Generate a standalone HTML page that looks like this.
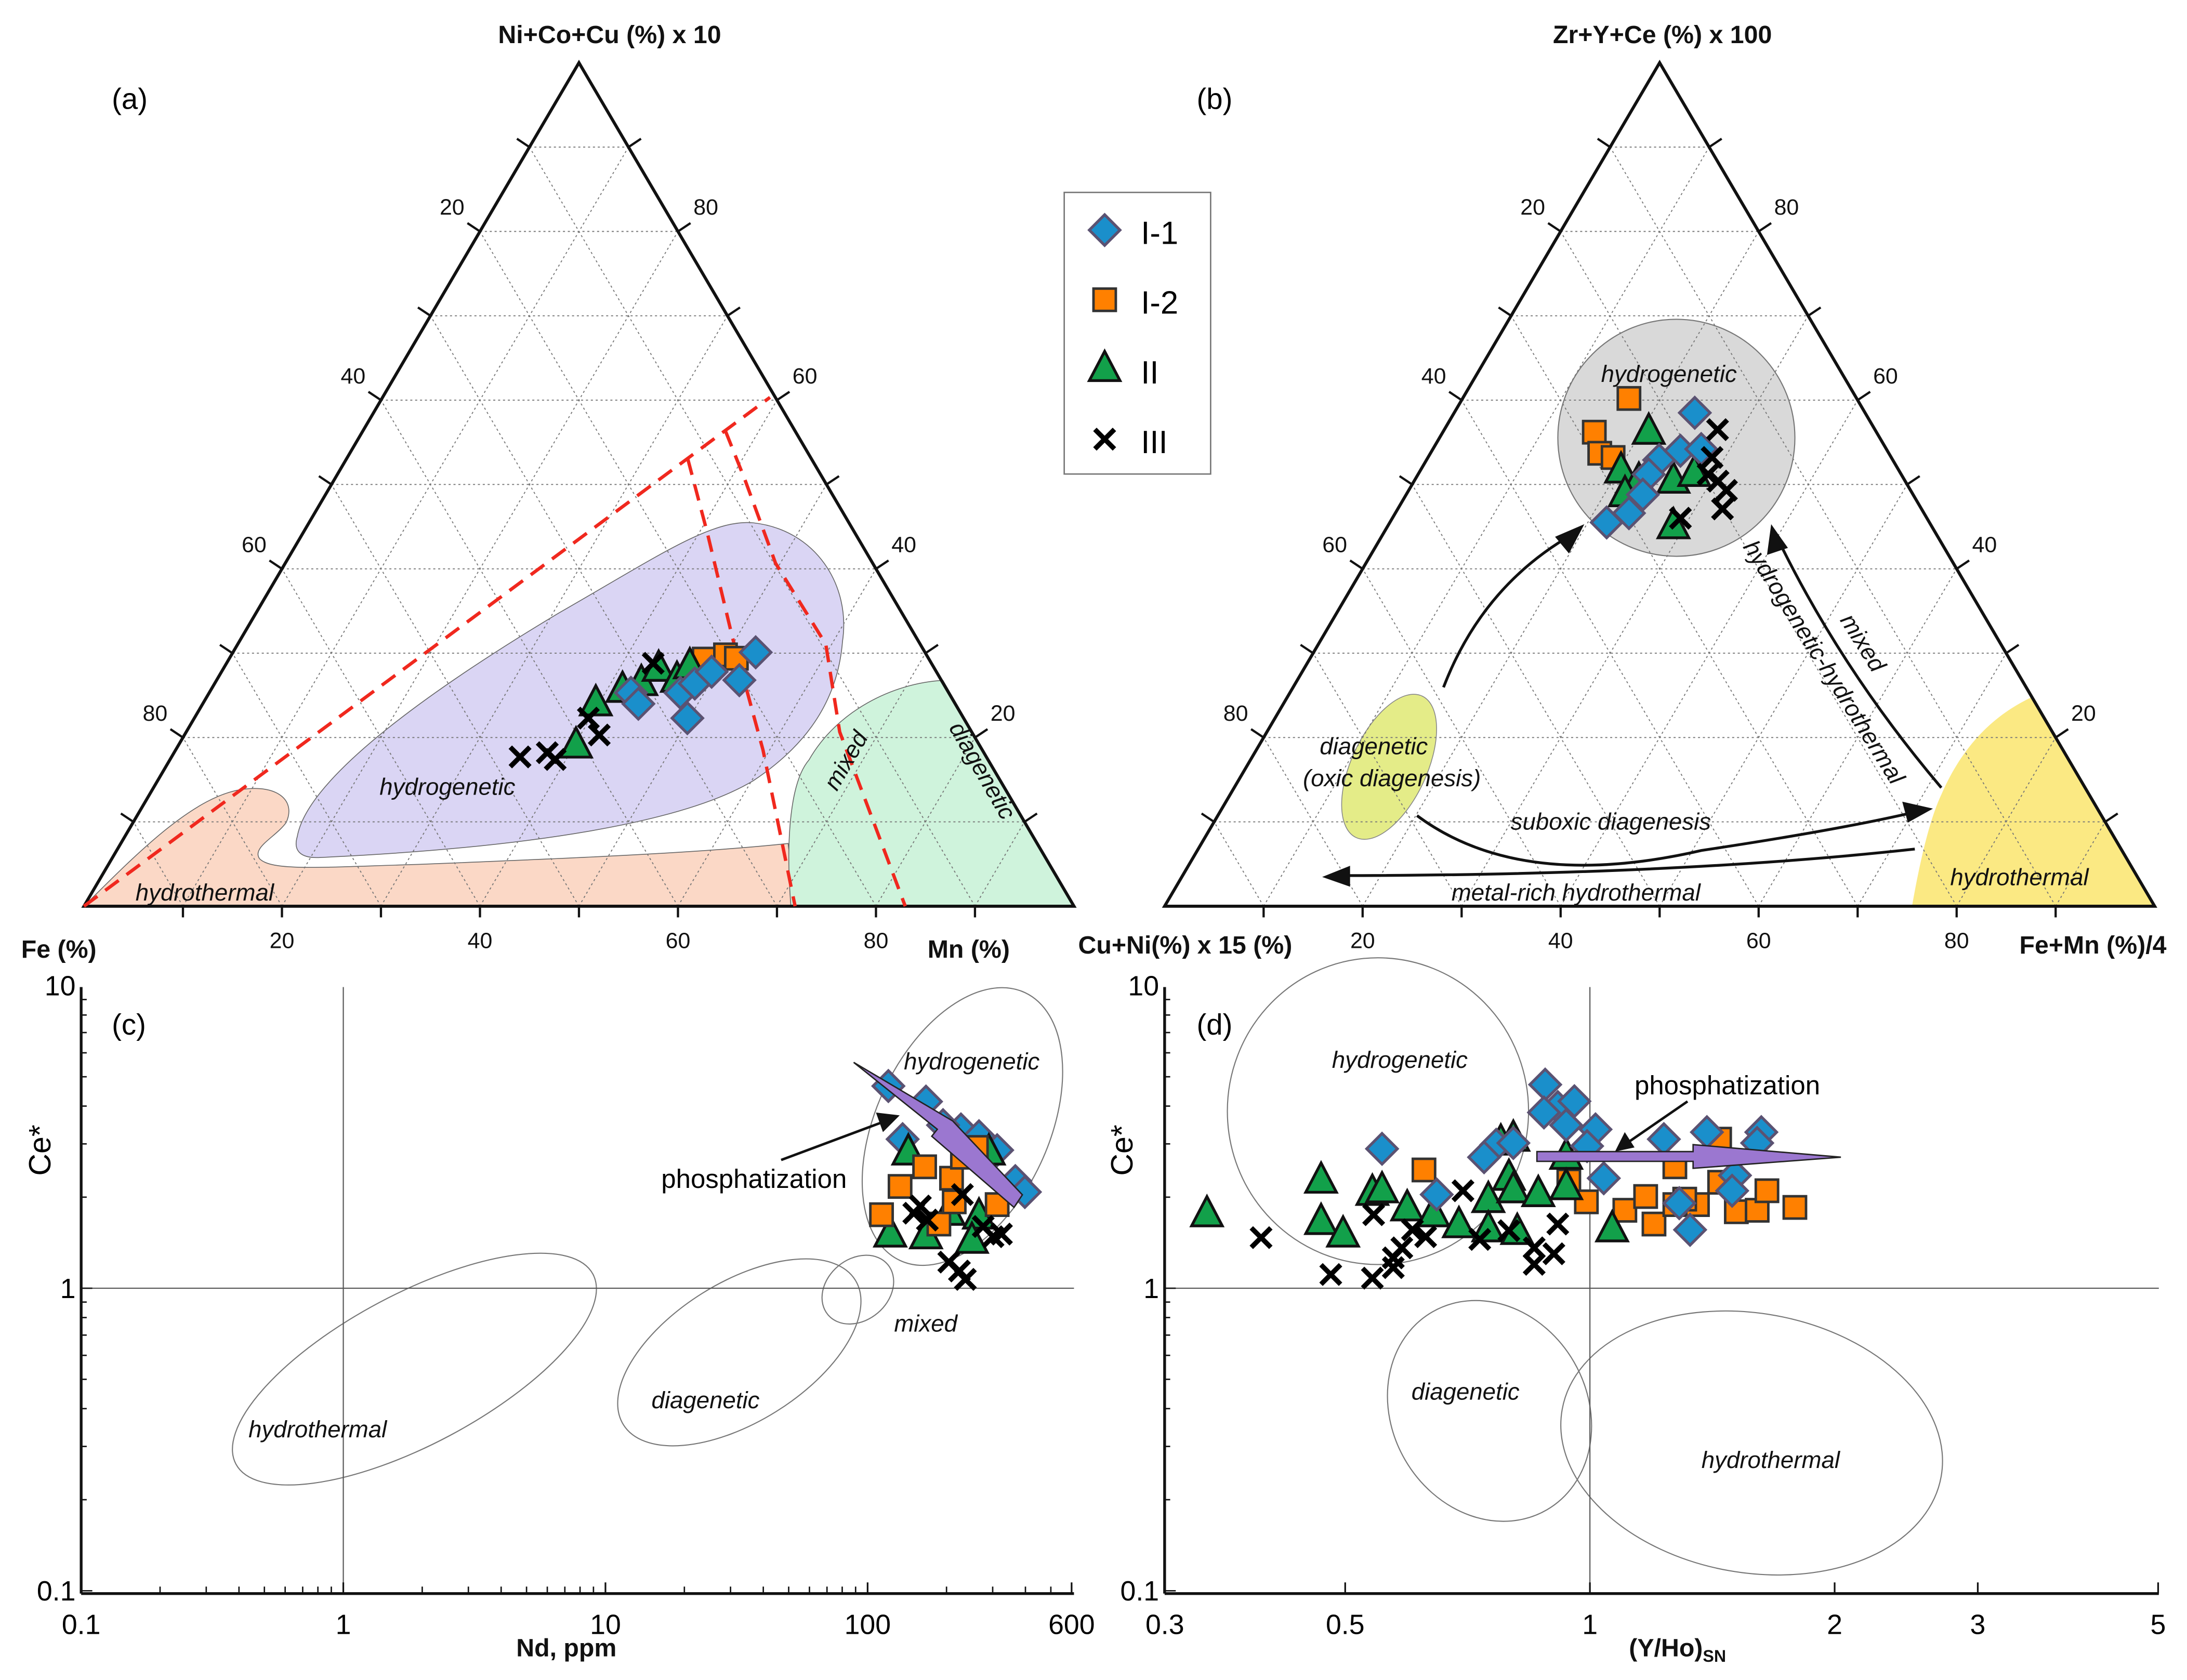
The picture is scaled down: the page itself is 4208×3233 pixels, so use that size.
<!DOCTYPE html>
<html><head><meta charset="utf-8"><style>
html,body{margin:0;padding:0;background:#fff;}
svg{display:block;font-family:"Liberation Sans",Arial,sans-serif;}
.t{font-size:16px;fill:#111;}
.b{font-weight:bold;font-size:18px;fill:#111;}
.i{font-style:italic;font-size:17px;fill:#111;}
.g{stroke:#777;stroke-width:0.7;stroke-dasharray:1.5 2;fill:none;}
</style></head><body>
<svg id="chart" width="4208" height="3233" viewBox="0 0 1568 1205" xmlns="http://www.w3.org/2000/svg">
<rect x="0" y="0" width="1568" height="1205" fill="#fff"/>
<g id="pa">
<path d="M60,650 C100,610 140,570 175,566 C200,563 212,575 205,590 C198,600 180,608 186,616 C195,625 230,622 300,620 C400,616 500,612 565,605 L570,650 Z" fill="#fbd8c6" stroke="#666" stroke-width="0.6"/>
<path d="M213,600 C220,560 300,500 400,440 C470,400 510,372 540,375 C585,380 610,420 604,460 C600,510 570,540 540,560 C490,590 380,608 230,615 C215,616 210,610 213,600Z" fill="#dad5f4" stroke="#666" stroke-width="0.6"/>
<path d="M567,650 C563,600 567,560 580,545 C600,510 640,490 676,488 L770,650 Z" fill="#cff3dc" stroke="#666" stroke-width="0.6"/>
</g>
<g id="pb">
<circle cx="1202" cy="314" r="85" fill="#d9d9d9" stroke="#777" stroke-width="0.8"/>
<ellipse cx="996" cy="550" rx="27" ry="56" transform="rotate(25 996 550)" fill="#e4ec88" stroke="#888" stroke-width="0.6"/>
<path d="M1371,650 C1378,610 1385,585 1392,570 C1405,540 1425,515 1457,500 L1545,650 Z" fill="#fbe983"/>
</g>
<g id="grids"></g>
<g id="frames">
<polygon points="60,650 770,650 415,45" fill="none" stroke="#111" stroke-width="2.2"/>
<polygon points="835,650 1545,650 1190,45" fill="none" stroke="#111" stroke-width="2.2"/>
<g fill="none" stroke="#f0281e" stroke-width="2.4" stroke-dasharray="12 7">
<path d="M60,650 L552,285"/>
<path d="M493,329 L507,382 L525,457 L547,538 L570,650"/>
<path d="M520,309 L534,344 L556,404 L592,462 L602,525 L649,650"/>
</g>
</g>
<g id="plots">
<ellipse cx="297" cy="982" rx="145" ry="54" transform="rotate(-28 297 982)" fill="none" stroke="#777" stroke-width="0.8"/>
<ellipse cx="530" cy="970" rx="98" ry="50" transform="rotate(-32 530 970)" fill="none" stroke="#777" stroke-width="0.8"/>
<ellipse cx="615" cy="925" rx="28" ry="22" transform="rotate(-40 615 925)" fill="none" stroke="#777" stroke-width="0.8"/>
<ellipse cx="690" cy="808" rx="62" ry="106" transform="rotate(25 690 808)" fill="none" stroke="#777" stroke-width="0.8"/>
<ellipse cx="988" cy="797" rx="108" ry="110" fill="none" stroke="#777" stroke-width="0.8"/>
<ellipse cx="1068" cy="1012" rx="70" ry="82" transform="rotate(-30 1068 1012)" fill="none" stroke="#777" stroke-width="0.8"/>
<ellipse cx="1256" cy="1035" rx="138" ry="93" transform="rotate(10 1256 1035)" fill="none" stroke="#777" stroke-width="0.8"/>
</g>
<g id="axes"></g>
<g id="marks"></g>
<g id="labels">
<text x="437" y="31" text-anchor="middle" class="b">Ni+Co+Cu (%) x 10</text>
<text x="1192" y="31" text-anchor="middle" class="b">Zr+Y+Ce (%) x 100</text>
<text x="80" y="78" style="font-size:21px">(a)</text>
<text x="858" y="78" style="font-size:21px">(b)</text>
<text x="80" y="742" style="font-size:21px">(c)</text>
<text x="858" y="742" style="font-size:21px">(d)</text>
<text x="15" y="687" class="b">Fe (%)</text>
<text x="665" y="687" class="b">Mn (%)</text>
<text x="773" y="684" class="b">Cu+Ni(%) x 15 (%)</text>
<text x="1448" y="684" class="b">Fe+Mn (%)/4</text>
<text x="272" y="570" class="i">hydrogenetic</text>
<text x="97" y="646" class="i">hydrothermal</text>
<text x="0" y="0" class="i" transform="translate(600,568) rotate(-60)">mixed</text>
<text x="0" y="0" class="i" transform="translate(680,522) rotate(60)">diagenetic</text>
<text x="1148" y="274" class="i">hydrogenetic</text>
<text x="985" y="541" text-anchor="middle" class="i">diagenetic</text>
<text x="998" y="564" text-anchor="middle" class="i">(oxic diagenesis)</text>
<text x="1155" y="595" text-anchor="middle" class="i">suboxic diagenesis</text>
<text x="1130" y="646" text-anchor="middle" class="i">metal-rich hydrothermal</text>
<text x="1448" y="635" text-anchor="middle" class="i">hydrothermal</text>
<text x="0" y="0" class="i" text-anchor="middle" transform="translate(1331,464) rotate(58)">mixed</text>
<text x="0" y="0" class="i" text-anchor="middle" transform="translate(1303,478) rotate(58)">hydrogenetic-hydrothermal</text>
<g fill="none" stroke="#111" stroke-width="2">
<path d="M1035,493 Q1063,420 1128,383"/>
<path d="M1392,565 Q1320,480 1274,385"/>
<path d="M1016,585 Q1090,640 1220,610 Q1320,595 1375,582"/>
<path d="M1373,609 Q1200,628 960,628"/>
</g>
<g fill="#111">
<polygon points="1136,376 1115,385 1125,397"/>
<polygon points="1270,376 1267,398 1282,393"/>
<polygon points="1386,580 1364,575 1368,590"/>
<polygon points="948,629 968,621 968,636"/>
</g>
<text x="648" y="767" class="i">hydrogenetic</text>
<text x="641" y="955" class="i">mixed</text>
<text x="467" y="1010" class="i">diagenetic</text>
<text x="178" y="1031" class="i">hydrothermal</text>
<text x="955" y="766" class="i">hydrogenetic</text>
<text x="1012" y="1004" class="i">diagenetic</text>
<text x="1220" y="1053" class="i">hydrothermal</text>
<polygon points="612,762 683,804 733,857 727,866 668,815 672,810" fill="#9b77d0" stroke="#222" stroke-width="1"/>
<polygon points="1102,826 1214,826 1214,821 1320,830 1214,838 1214,833 1102,833" fill="#9b77d0" stroke="#222" stroke-width="1"/>
<text x="474" y="852" style="font-size:19px">phosphatization</text>
<text x="1172" y="785" style="font-size:19px">phosphatization</text>
<path d="M560,832 L635,804" stroke="#111" stroke-width="1.8" fill="none"/>
<polygon points="645,800 628,798 633,812" fill="#111"/>
<path d="M1210,790 L1165,821" stroke="#111" stroke-width="1.8" fill="none"/>
<polygon points="1158,826 1165,812 1172,823" fill="#111"/>
<text x="370" y="1188" class="b">Nd, ppm</text>
<text x="1168" y="1188" class="b">(Y/Ho)<tspan font-size="12" dy="4">SN</tspan></text>
<text x="0" y="0" style="font-size:22px" text-anchor="middle" transform="translate(36,825) rotate(-90)">Ce*</text>
<text x="0" y="0" style="font-size:22px" text-anchor="middle" transform="translate(812,825) rotate(-90)">Ce*</text>
</g>
<g id="legend">
<rect x="763" y="138" width="105" height="202" fill="#fff" stroke="#777" stroke-width="1"/>
<text x="818" y="175" style="font-size:23px">I-1</text>
<text x="818" y="225" style="font-size:23px">I-2</text>
<text x="818" y="275" style="font-size:23px">II</text>
<text x="818" y="325" style="font-size:23px">III</text>
</g>
</svg>
<script>
const aDiaMn=[42.6,44,47.6,49.8,48.5,49.5,52.8,52.8];
const aDiaNcc=[25.3,24,25.3,22.3,26.4,27.8,26.8,30.1];
const aSqMn=[48,49.9,51.2];
const aSqNcc=[29.3,29.8,29.4];
const aTriMn=[40.2,39.7,41.6,43.1,44,46.5,47];
const aTriNcc=[19,24,25.6,26.4,28.1,26.8,28.4];
const aXMn=[35.2,37.7,38.9,39.8,41.9,43.1];
const aXNcc=[17.7,18.2,17.4,22.3,20.3,28.8];
const bDiaFM=[24.3,23.5,25.1,27.1,23.3,23.9,21.9,23.6];
const bDiaZYC=[58.5,52.9,54,54.2,51.2,48.8,45.5,46.6];
const bSqFM=[16.8,15.3,17.1,18.7,23.2];
const bSqZYC=[60.2,56.2,53.7,53.2,47.9];
const bTriFM=[20.8,20.3,22.7,26.2,27.9,28.9,22.1];
const bTriZYC=[56.2,51.6,50.4,50.4,51.2,45,48.8];
const bXFM=[27.6,28.7,29.3,30.7,32.1,32.8,29.1];
const bXZYC=[56.5,53.2,51.2,50.4,49.3,47.1,46];
const cDiaNd=[120,167,136,227,312,366,194,266,398];
const cDiaCe=[4.66,4.14,3.11,3.35,2.86,2.26,3.46,3.18,2.08];
const cSqNd=[165,133,113,209,260,230,187,214,312];
const cSqCe=[2.52,2.17,1.75,2.31,2.92,2.71,1.63,1.93,1.89];
const cTriNd=[143,122,167,266,290,250,204];
const cTriCe=[2.8,1.5,1.48,1.72,2.8,1.43,1.77];
const cXNd=[150,159,230,301,204,224,236,324,169,276];
const cXCe=[1.77,1.87,2.04,1.48,1.22,1.14,1.07,1.51,1.68,1.6];
const dDiaYH=[0.881,0.913,0.957,0.878,0.935,1.016,0.767,0.805,0.741,0.555,0.648,1.04,0.992,1.233,1.393,1.625,1.606,1.508,1.496,1.288,1.328];
const dDiaCe=[4.71,3.97,4.15,3.81,3.46,3.35,2.98,3.02,2.71,2.89,2.04,2.31,2.95,3.11,3.28,3.28,3.02,2.36,2.1,1.91,1.56];
const dSqYH=[0.625,0.942,0.99,1.104,1.171,1.199,1.272,1.272,1.356,1.444,1.444,1.514,1.606,1.651,1.787,1.308];
const dSqCe=[2.46,2.26,1.93,1.81,2.01,1.63,2.52,1.89,1.89,3.11,2.24,1.79,1.81,2.1,1.85,1.97];
const dTriYH=[0.338,0.467,0.467,0.497,0.54,0.555,0.596,0.642,0.69,0.75,0.777,0.805,0.795,0.805,0.864,0.75,0.814,0.935,0.935,1.065];
const dTriCe=[1.75,2.26,1.65,1.5,2.06,2.1,1.83,1.75,1.61,1.95,3.02,3.11,2.31,2.1,2.04,1.56,1.53,2.71,2.15,1.56];
const dXYH=[0.394,0.542,0.48,0.54,0.573,0.587,0.605,0.628,0.698,0.732,0.795,0.854,0.903,0.913,0.854,0.573];
const dXCe=[1.47,1.75,1.11,1.08,1.26,1.36,1.56,1.48,2.1,1.45,1.55,1.36,1.3,1.63,1.2,1.17];
const ternTickVals=[20,40,60,80];
const cXTicks=[0.1,1,10,100,600];
const dXTicks=[0.3,0.5,1,2,3,5];
const yTicks=[0.1,1,10];

const NS='http://www.w3.org/2000/svg';
function mk(tag,parent,attrs){const e=document.createElementNS(NS,tag);for(const k in attrs)e.setAttribute(k,attrs[k]);parent.appendChild(e);return e;}
const TA={L:[60,650],R:[770,650],T:[415,45]};
const TB={L:[835,650],R:[1545,650],T:[1190,45]};
function tern(T,m,t){return [T.L[0]+m*(T.R[0]-T.L[0])+t*(T.T[0]-T.L[0]), T.L[1]+m*(T.R[1]-T.L[1])+t*(T.T[1]-T.L[1])];}
function cx(v){return 246+188*Math.log10(v);}
function dx(v){return 1140+583*Math.log10(v);}
function yy(v){return 924-217*Math.log10(v);}

const grids=document.getElementById('grids');
const axes=document.getElementById('axes');
const marks=document.getElementById('marks');

function drawTernGrid(T,pref){
  for(let k=1;k<10;k++){
    const f=k/10;
    let p=tern(T,0,f),q=tern(T,1-f,f);
    let l=mk('line',grids,{x1:p[0],y1:p[1],x2:q[0],y2:q[1],class:'g'});
    
    
    p=tern(T,f,0);q=tern(T,f,1-f);
    l=mk('line',grids,{x1:p[0],y1:p[1],x2:q[0],y2:q[1],class:'g'});
    
    
    p=tern(T,1-f,0);q=tern(T,0,1-f);
    l=mk('line',grids,{x1:p[0],y1:p[1],x2:q[0],y2:q[1],class:'g'});
    
    
    p=tern(T,f,0);
    let tk=mk('line',axes,{x1:p[0],y1:p[1],x2:p[0],y2:p[1]+8,stroke:'#111','stroke-width':1.6});
    
    
    p=tern(T,0,f);
    tk=mk('line',axes,{x1:p[0],y1:p[1],x2:p[0]-9,y2:p[1]-6,stroke:'#111','stroke-width':1.6});
    
    
    p=tern(T,1-f,f);
    tk=mk('line',axes,{x1:p[0],y1:p[1],x2:p[0]+9,y2:p[1]-6,stroke:'#111','stroke-width':1.6});
    
    
  }
  ternTickVals.forEach(v=>{
    const f=v/100;
    let p=tern(T,f,0);
    let t=mk('text',axes,{x:p[0],y:p[1]+30,'text-anchor':'middle',class:'t'});t.textContent=v;
    
    
    p=tern(T,0,f);
    t=mk('text',axes,{x:p[0]-20,y:p[1]-12,'text-anchor':'middle',class:'t'});t.textContent=100-v;
    
    
    p=tern(T,1-f,f);
    t=mk('text',axes,{x:p[0]+20,y:p[1]-12,'text-anchor':'middle',class:'t'});t.textContent=v;
    
    
  });
}
drawTernGrid(TA,'ternary-a');
drawTernGrid(TB,'ternary-b');

function drawLogAxes(x0,x1,xf,xt,pref){
  let a=mk('line',axes,{x1:x0,y1:708,x2:x0,y2:1143,stroke:'#111','stroke-width':2});
  
  
  a=mk('line',axes,{x1:x0,y1:1143,x2:x1,y2:1143,stroke:'#111','stroke-width':2});
  
  
  a=mk('line',axes,{x1:x0,y1:yy(1),x2:x1,y2:yy(1),stroke:'#555','stroke-width':0.8});
  
  
  a=mk('line',axes,{x1:xf(1),y1:708,x2:xf(1),y2:1143,stroke:'#555','stroke-width':0.8});
  
  
  for(let d=0.1;d<10;d*=10){for(let k=1;k<10;k++){const v=d*k;const y=yy(v);
    const tk=mk('line',axes,{x1:x0,y1:y,x2:x0+(k==1?8:4),y2:y,stroke:'#111','stroke-width':1});
    
    }}
  yTicks.forEach(v=>{const t=mk('text',axes,{x:x0-4,y:yy(v)+7,'text-anchor':'end',style:'font-size:20px'});t.textContent=v;
    
    });
  xt.forEach(v=>{const x=xf(v);
    const tk=mk('line',axes,{x1:x,y1:1143,x2:x,y2:1135,stroke:'#111','stroke-width':1.2});
    
    
    const t=mk('text',axes,{x:x,y:1172,'text-anchor':'middle',style:'font-size:20px'});t.textContent=v;
    
    });
}
drawLogAxes(58,770,cx,cXTicks,'plot-c');
for(let d=0.1;d<=100;d*=10){for(let k=2;k<10;k++){const v=d*k;if(v>600)break;const x=cx(v);
  const tk=mk('line',axes,{x1:x,y1:1143,x2:x,y2:1138,stroke:'#111','stroke-width':1});
  
  }}
drawLogAxes(835,1548,dx,dXTicks,'plot-d');

function marker(type,x,y,name){
  let e;
  if(type==='dia'){e=mk('polygon',marks,{points:`${x},${y-11} ${x+11},${y} ${x},${y+11} ${x-11},${y}`,fill:'#1a8fcb',stroke:'#5b5272','stroke-width':2});}
  else if(type==='sq'){e=mk('rect',marks,{x:x-8,y:y-8,width:16,height:16,fill:'#ff8000',stroke:'#333','stroke-width':1.8});}
  else if(type==='tri'){e=mk('polygon',marks,{points:`${x},${y-13} ${x+11},${y+8} ${x-11},${y+8}`,fill:'#12a04a',stroke:'#111','stroke-width':2});}
  else {e=mk('path',marks,{d:`M${x-7},${y-7}L${x+7},${y+7}M${x+7},${y-7}L${x-7},${y+7}`,stroke:'#000','stroke-width':3.5,fill:'none'});}
  
  
}
function tset(T,type,ms,ts,name){ms.forEach((m,i)=>{const p=tern(T,m/100,ts[i]/100);marker(type,p[0],p[1],name);});}
tset(TA,'sq',aSqMn,aSqNcc,'point-a-i-2');
tset(TA,'tri',aTriMn,aTriNcc,'point-a-ii');
tset(TA,'x',aXMn,aXNcc,'point-a-iii');
tset(TA,'dia',aDiaMn,aDiaNcc,'point-a-i-1');
tset(TB,'sq',bSqFM,bSqZYC,'point-b-i-2');
tset(TB,'tri',bTriFM,bTriZYC,'point-b-ii');
tset(TB,'dia',bDiaFM,bDiaZYC,'point-b-i-1');
tset(TB,'x',bXFM,bXZYC,'point-b-iii');
function lset(xf,type,xs,ys,name){xs.forEach((v,i)=>marker(type,xf(v),yy(ys[i]),name));}
lset(cx,'dia',cDiaNd,cDiaCe,'point-c-i-1');
lset(cx,'tri',cTriNd,cTriCe,'point-c-ii');
lset(cx,'sq',cSqNd,cSqCe,'point-c-i-2');
lset(cx,'x',cXNd,cXCe,'point-c-iii');
lset(dx,'sq',dSqYH,dSqCe,'point-d-i-2');
lset(dx,'tri',dTriYH,dTriCe,'point-d-ii');
lset(dx,'dia',dDiaYH,dDiaCe,'point-d-i-1');
lset(dx,'x',dXYH,dXCe,'point-d-iii');
const labels=document.getElementById('labels');
document.getElementById('chart').appendChild(labels);
const legend=document.getElementById('legend');
document.getElementById('chart').appendChild(legend);
const lm=document.createElementNS(NS,'g');legend.appendChild(lm);
[['dia',165,'legend-marker-i-1'],['sq',215,'legend-marker-i-2'],['tri',265,'legend-marker-ii'],['x',315,'legend-marker-iii']].forEach(r=>{marker(r[0],792,r[1],r[2]);lm.appendChild(marks.lastChild);});
</script>
</body></html>
